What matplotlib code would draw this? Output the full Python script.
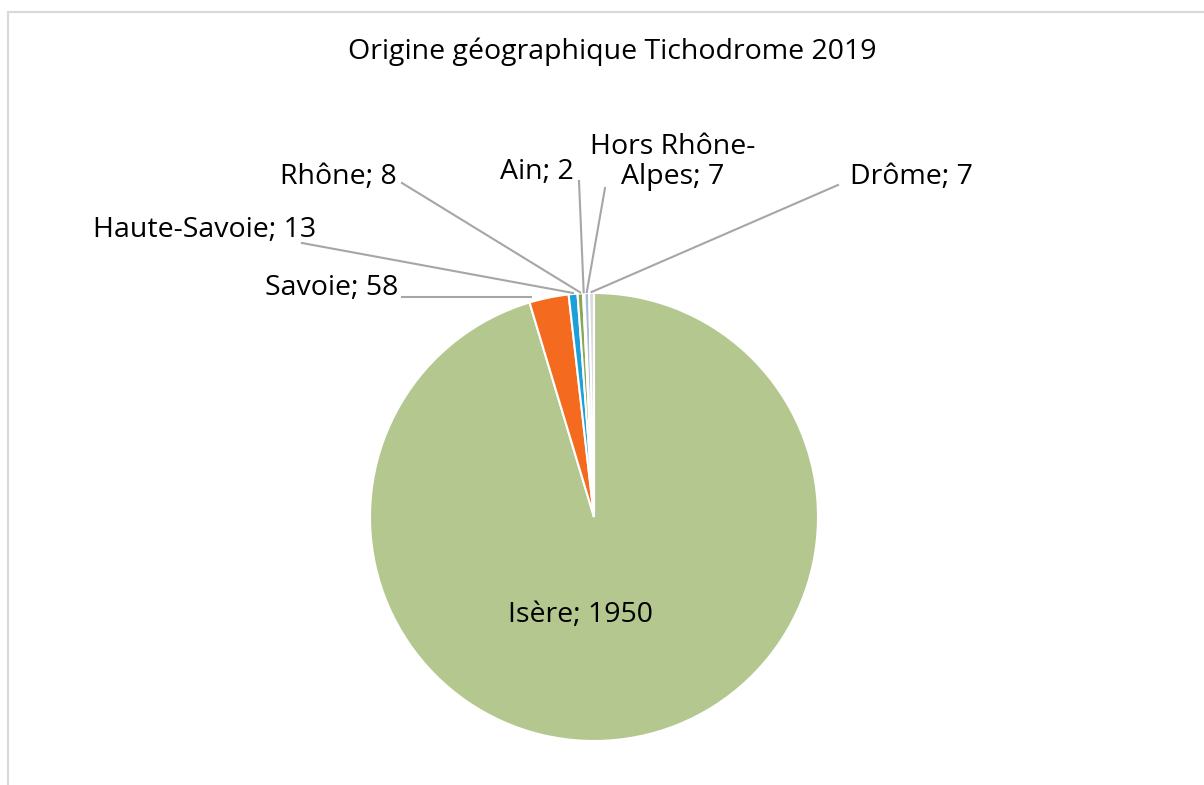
import matplotlib
matplotlib.use("Agg")
import matplotlib.pyplot as plt
import numpy as np
from matplotlib.patches import Rectangle

plt.rcParams['font.family'] = ['Open Sans', 'DejaVu Sans']

categories = ["Isère", "Savoie", "Haute-Savoie", "Rhône", "Ain", "Hors Rhône-\nAlpes", "Drôme"]
values = [1950, 58, 13, 8, 2, 7, 7]
colors = ["#B3C78F", "#F46A1F", "#1D9FDA", "#8AA653", "#D6DEE6", "#A9BCD5", "#D9D9D9"]
title = "Origine géographique Tichodrome 2019"

W, H = 1204, 785
fig = plt.figure(figsize=(W / 100, H / 100), dpi=100)
ax = fig.add_axes([0, 0, 1, 1])
ax.set_xlim(0, W)
ax.set_ylim(0, H)
ax.set_aspect('equal')
ax.axis('off')

# chart frame
ax.add_patch(Rectangle((8, -10), W, H - 12 + 10, fill=False, edgecolor="#D9D9D9", lw=1.5))

cx, cy, R = 594, H - 517, 224
wedges, _ = ax.pie(values, colors=colors, startangle=90, counterclock=False,
                   center=(cx, cy), radius=R, frame=True,
                   wedgeprops=dict(edgecolor="white", linewidth=1.5))
ax.set_xlim(0, W)
ax.set_ylim(0, H)
ax.axis('off')

total = float(sum(values))
cum = np.cumsum([0] + values[:-1])
mids = 90 - 360 * (cum + np.array(values) / 2) / total

fs = 20.5
# Isère label inside
ax.text(581, H - 615, f"{categories[0]}; {values[0]}", ha='center', va='center', fontsize=fs, color='black')

# outside labels: (text anchor x, y in px from top, ha, leader start x, y)
label_layout = {
    1: (398, 288, 'right', 402, 297),
    2: (316, 230, 'right', 302, 243),
    3: (397, 177, 'right', 402, 183),
    4: (574, 172, 'right', 579, 181),
    5: (673, 162, 'center', 605, 188),
    6: (850, 177, 'left', 838, 185),
}
for i, (tx, ty, ha, lx, ly) in label_layout.items():
    ang = np.deg2rad(mids[i])
    ex, ey = cx + R * np.cos(ang), cy + R * np.sin(ang)
    if i == 1:
        ax.plot([lx, ex - 18], [H - ly, H - ly], color="#A6A6A6", lw=1.5)
    else:
        ax.plot([lx, ex], [H - ly, ey + 1], color="#A6A6A6", lw=1.5)
    ax.text(tx, H - ty, f"{categories[i]}; {values[i]}", ha=ha, va='center',
            fontsize=fs, color='black', linespacing=1.1,
            multialignment='center')

ax.text(612, H - 52, title, ha='center', va='center', fontsize=20.5, color='black')

fig.savefig("out.png", dpi=100)
